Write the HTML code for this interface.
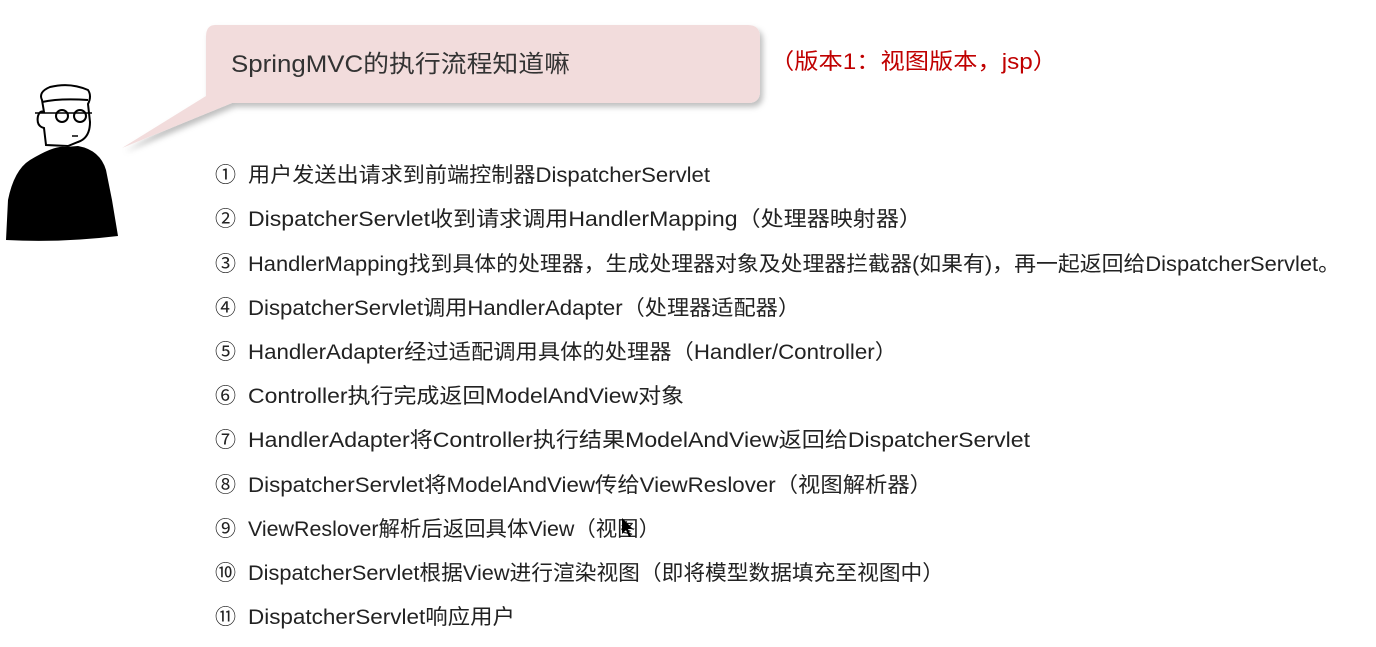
<!DOCTYPE html>
<html><head><meta charset="utf-8"><style>
html,body{margin:0;padding:0;background:#fff;}
svg{display:block;}
text{font-family:"Liberation Sans","Noto Sans CJK SC",sans-serif;}
</style></head><body>
<svg width="1376" height="647" viewBox="0 0 1376 647" xmlns="http://www.w3.org/2000/svg">
<defs>
<filter id="sh" x="-10%" y="-20%" width="130%" height="160%">
<feDropShadow dx="3" dy="4" stdDeviation="3" flood-color="#000" flood-opacity="0.25"/>
</filter>
</defs>
<rect width="1376" height="647" fill="#fff"/>
<!-- bubble -->
<g filter="url(#sh)">
<path d="M215,25 H748 Q760,25 760,37 V91 Q760,103 748,103 H232 L122,148 L206,96 V37 Q206,25 215,25 Z" fill="#f2dcdc"/>
</g>
<text x="231" y="72" font-size="24" fill="#333" textLength="339" lengthAdjust="spacingAndGlyphs">SpringMVC的执行流程知道嘛</text>
<text x="770" y="69" font-size="22" fill="#c00000" textLength="287" lengthAdjust="spacingAndGlyphs">（版本1：视图版本，jsp）</text>
<!-- person -->
<path d="M30,160 Q55,145 65,147 L78,146 Q100,150 106,170 L112,200 L118,236 Q60,243 6,240 L8,200 Q14,170 30,160 Z" fill="#000"/>
<path d="M46,145 L44,128 Q36,126 38,116 Q40,110 44,112 L42,100 Q38,92 50,87 Q70,82 88,90 Q92,96 88,104 L90,122 Q90,138 78,142 L68,146 Z" fill="#fff" stroke="#000" stroke-width="2"/>
<path d="M42,102 Q60,98 88,100" fill="none" stroke="#000" stroke-width="2"/>
<circle cx="62" cy="116" r="6" fill="none" stroke="#000" stroke-width="2"/>
<circle cx="80" cy="116" r="6" fill="none" stroke="#000" stroke-width="2"/>
<line x1="35" y1="113" x2="92" y2="113" stroke="#000" stroke-width="1.5"/>
<line x1="72" y1="136" x2="78" y2="136" stroke="#000" stroke-width="1.5"/>
<!-- list -->
<g font-size="21" fill="#222">
<text x="215" y="182">①</text><text x="248" y="182" textLength="462" lengthAdjust="spacingAndGlyphs">用户发送出请求到前端控制器DispatcherServlet</text>
<text x="215" y="226">②</text><text x="248" y="226" textLength="674" lengthAdjust="spacingAndGlyphs">DispatcherServlet收到请求调用HandlerMapping（处理器映射器）</text>
<text x="215" y="271">③</text><text x="248" y="271" textLength="1092" lengthAdjust="spacingAndGlyphs">HandlerMapping找到具体的处理器，生成处理器对象及处理器拦截器(如果有)，再一起返回给DispatcherServlet。</text>
<text x="215" y="315">④</text><text x="248" y="315" textLength="552" lengthAdjust="spacingAndGlyphs">DispatcherServlet调用HandlerAdapter（处理器适配器）</text>
<text x="215" y="359">⑤</text><text x="248" y="359" textLength="649" lengthAdjust="spacingAndGlyphs">HandlerAdapter经过适配调用具体的处理器（Handler/Controller）</text>
<text x="215" y="403">⑥</text><text x="248" y="403" textLength="436" lengthAdjust="spacingAndGlyphs">Controller执行完成返回ModelAndView对象</text>
<text x="215" y="447">⑦</text><text x="248" y="447" textLength="782" lengthAdjust="spacingAndGlyphs">HandlerAdapter将Controller执行结果ModelAndView返回给DispatcherServlet</text>
<text x="215" y="492">⑧</text><text x="248" y="492" textLength="684" lengthAdjust="spacingAndGlyphs">DispatcherServlet将ModelAndView传给ViewReslover（视图解析器）</text>
<text x="215" y="536">⑨</text><text x="248" y="536" textLength="412" lengthAdjust="spacingAndGlyphs">ViewReslover解析后返回具体View（视图）</text>
<text x="215" y="580">⑩</text><text x="248" y="580" textLength="696" lengthAdjust="spacingAndGlyphs">DispatcherServlet根据View进行渲染视图（即将模型数据填充至视图中）</text>
<text x="215" y="624">⑪</text><text x="248" y="624" textLength="267" lengthAdjust="spacingAndGlyphs">DispatcherServlet响应用户</text>
</g>
<path d="M622,518 L622,534 L626,530 L629,537 L631,536 L628,529 L633,529 Z" fill="#000"/>
</svg>
</body></html>
